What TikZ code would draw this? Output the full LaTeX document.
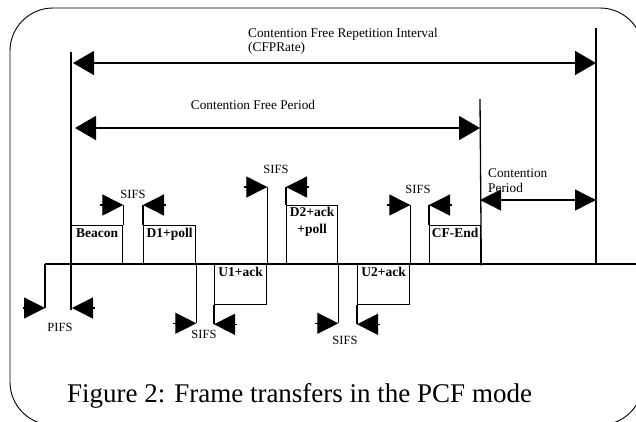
\documentclass[tikz,border=0pt]{standalone}
\usepackage{fontspec}
\setmainfont{Liberation Serif}
\usetikzlibrary{arrows.meta}
\begin{document}
\begin{tikzpicture}[x=1pt,y=-1pt,
  ln/.style={line width=1.3pt},
  box/.style={draw,line width=1.3pt,inner sep=0pt,anchor=north west},
  boxtxt/.style={font=\fontsize{13.5}{15}\selectfont\bfseries,anchor=north,inner sep=0pt,align=center},
  small/.style={font=\fontsize{12.5}{14}\selectfont,inner sep=0pt},
  lbl/.style={font=\fontsize{13.3}{15}\selectfont,inner sep=0pt},
  sarr/.style={line width=1.3pt,-{Triangle[length=21pt,width=21pt]}},
  barr/.style={line width=1.5pt,{Triangle[length=21pt,width=24pt]}-{Triangle[length=21pt,width=24pt]}},
]
\useasboundingbox (0,0) rectangle (636,421);
\begin{scope}
\clip (0,0) rectangle (636,421);
\draw[line width=0.9pt,rounded corners=43pt] (10,8) rectangle (643,425);
\end{scope}

% frames
\node[box,minimum width=51pt,minimum height=39pt] (beacon) at (71,225) {};
\node[boxtxt] (beacont) at ([yshift=-3pt]beacon.north) {Beacon};
\node[box,minimum width=52pt,minimum height=39pt] (d1) at (143,225) {};
\node[boxtxt] (d1t) at ([yshift=-3pt]d1.north) {D1+poll};
\node[box,minimum width=52pt,minimum height=40pt] (u1) at (214,264) {};
\node[boxtxt] (u1t) at ([yshift=-3pt]u1.north) {U1+ack};
\node[box,minimum width=51pt,minimum height=59pt] (d2) at (286,205) {};
\node[boxtxt,font=\fontsize{13.5}{17}\selectfont\bfseries] (d2t) at ([yshift=-2pt]d2.north) {D2+ack\\+poll};
\node[box,minimum width=52pt,minimum height=40pt] (u2) at (357,264) {};
\node[boxtxt] (u2t) at ([yshift=-3pt]u2.north) {U2+ack};
\node[box,minimum width=51pt,minimum height=39pt] (cfend) at (429,225) {};
\node[boxtxt] (cfendt) at ([yshift=-3pt]cfend.north) {CF-End};

% coordinates
\coordinate (tl) at (45,264);
\coordinate (tr) at (636,264);
\coordinate (pifsb) at (45,308);
\coordinate (pifst) at (23,308);
\coordinate (v1t) at (71,52);
\coordinate (v1b) at (71,310);
\coordinate (v1a) at (72,308);
\coordinate (v1at) at (95,308);
\coordinate (vrt) at (596,28);
\coordinate (vrb) at (596,264);
\coordinate (vmt) at (480,99);

% timeline
\draw[ln] (tl) -- (tr);
\draw[ln] (tl) -- (pifsb);
\draw[sarr] (pifst) -- (pifsb);
\draw[ln] (v1t) -- (v1b);
\draw[sarr] (v1at) -- (v1a);
\draw[ln] (vrt) -- (vrb);
\draw[ln] (vmt) -- (cfend.south east);

% SIFS Beacon / D1
\draw[ln] (beacon.north east) -- ++(0,-20) coordinate (s1a);
\draw[sarr] ([xshift=-23pt]s1a) -- (s1a);
\draw[ln] (d1.north west) -- ++(0,-20) coordinate (s1b);
\draw[sarr] ([xshift=23pt]s1b) -- (s1b);
% SIFS D1 / U1
\draw[ln] (d1.south east) -- ++(0,58) coordinate (s2a);
\draw[sarr] ([xshift=-23pt]s2a) -- (s2a);
\draw[ln] (u1.south west) -- ++(0,19) coordinate (s2b);
\draw[sarr] ([xshift=23pt]s2b) -- (s2b);
% SIFS U1 / D2
\draw[ln] (u1.north east) -- ++(0,-77) coordinate (s3a);
\draw[sarr] ([xshift=-23pt]s3a) -- (s3a);
\draw[ln] (d2.north west) -- ++(0,-18) coordinate (s3b);
\draw[sarr] ([xshift=23pt]s3b) -- (s3b);
% SIFS D2 / U2
\draw[ln] (d2.south east) -- ++(0,58) coordinate (s4a);
\draw[sarr] ([xshift=-23pt]s4a) -- (s4a);
\draw[ln] (u2.south west) -- ++(0,19) coordinate (s4b);
\draw[sarr] ([xshift=23pt]s4b) -- (s4b);
% SIFS U2 / CF-End
\draw[ln] (u2.north east) -- ++(0,-59) coordinate (s5a);
\draw[sarr] ([xshift=-23pt]s5a) -- (s5a);
\draw[ln] (cfend.north west) -- ++(0,-20) coordinate (s5b);
\draw[sarr] ([xshift=23pt]s5b) -- (s5b);

% big arrows
\coordinate (cfria) at (73,63);
\coordinate (cfrib) at (596,63);
\coordinate (cfpa) at (75,128);
\coordinate (cfpb) at (480,128);
\coordinate (cpa) at (480,200);
\coordinate (cpb) at (596,200);
\draw[barr] (cfria) -- (cfrib);
\draw[barr] (cfpa) -- (cfpb);
\draw[line width=1.3pt,{Triangle[length=21pt,width=21pt]}-{Triangle[length=21pt,width=21pt]}] (cpa) -- (cpb);

% labels
\node[lbl,anchor=base west] (cfri1) at (248,37) {Contention Free Repetition Interval};
\node[lbl,anchor=base west] (cfri2) at (248,51.5) {(CFPRate)};
\node[lbl,anchor=base] (cfpl) at (253,109) {Contention Free Period};
\node[lbl,anchor=west] (cpl1) at (488,173) {Contention};
\node[lbl,anchor=west] (cpl2) at (488,188) {Period};
\node[small] (sifs1) at (133,194) {SIFS};
\node[small] (pifs) at (60,327) {PIFS};
\node[small] (sifs2) at (204,334) {SIFS};
\node[small] (sifs3) at (276,169) {SIFS};
\node[small] (sifs4) at (345,340) {SIFS};
\node[small] (sifs5) at (418,189) {SIFS};

\node[font=\fontsize{27}{30}\selectfont,anchor=base,inner sep=0pt] (cap) at (299.5,402) {Figure 2: Frame transfers in the PCF mode};
\end{tikzpicture}
\end{document}
